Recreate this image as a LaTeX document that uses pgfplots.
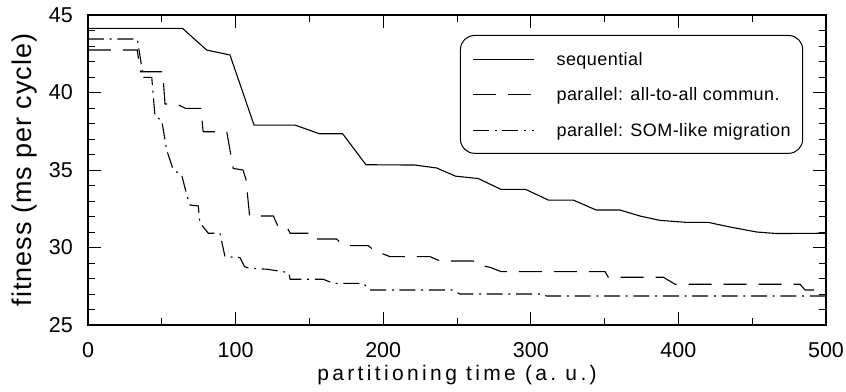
\documentclass[border=0pt]{standalone}
\usepackage{fontspec}
\setmainfont{Liberation Sans}
\newfontfamily\labelfont[LetterSpace=16]{Liberation Sans}
\newfontfamily\ylabelfont[LetterSpace=3.5]{Liberation Sans}
\newfontfamily\legfont[LetterSpace=2.5]{Liberation Sans}
\usepackage{pgfplots}
\pgfplotsset{compat=1.18}
\begin{document}
\begin{tikzpicture}
\path[use as bounding box] (-88pt,-66pt) rectangle (758pt,325pt);
\begin{axis}[
  at={(0pt,0pt)}, anchor=south west,
  scale only axis, width=738pt, height=310pt,
  xmin=0, xmax=500, ymin=25, ymax=45,
  xtick={0,100,...,500}, ytick={25,30,...,45},
  minor x tick num=1, minor y tick num=4,
  major tick length=13pt, minor tick length=7pt,
  tick align=inside,
  every tick/.style={black, line width=1pt},
  axis line style={line width=1.3pt},
  /pgf/number format/assume math mode=true,
  ticklabel style={font=\fontsize{21.5}{25}\selectfont},
  yticklabel style={anchor=east, inner sep=0pt, xshift=-15pt},
  xticklabel style={anchor=north, inner sep=0pt, yshift=-17pt},
  xlabel={partitioning time (a.\ u.)},
  xlabel style={at={(axis description cs:0.5,-0.1790)}, anchor=base, inner sep=0pt, font=\labelfont\fontsize{21}{25}\selectfont},
  ylabel={fitness (ms per cycle)},
  ylabel style={at={(axis description cs:-0.0759,0.5)}, anchor=base, inner sep=0pt, font=\ylabelfont\fontsize{27}{31}\selectfont},
  legend image code/.code={\draw[#1] (0pt,-0.5pt) -- (61pt,-0.5pt);},
  legend cell align=left,
  legend style={at={(axis cs:252,43.71)}, anchor=north west, draw=black, line width=1pt,
    rounded corners=14pt, inner xsep=12pt, inner ysep=15pt, row sep=18.4pt, column sep=22pt,
    font=\legfont\fontsize{18}{21}\selectfont,
    nodes={inner sep=0pt, text height=15pt, text depth=2pt}},
]
\addplot[black, line width=1.1pt, sharp corners] coordinates {
(0,44.14) (64,44.14) (80.4,42.74) (96.2,42.42) (112.5,37.9) (140.2,37.9) (156.7,37.34) (172.5,37.34)
(188.3,35.34) (221.5,35.32) (236.2,35.13) (249.1,34.6) (264.4,34.45) (279.8,33.75) (296.5,33.75)
(311.9,33.06) (328.8,33.06) (344.2,32.42) (360.4,32.42) (374,32.03) (387.5,31.75) (405.6,31.62)
(420.3,31.62) (435,31.32) (453,31.0) (466.6,30.9) (500,30.92)};
\addlegendentry{sequential}
\addplot[black, line width=1.1pt, dash pattern=on 23pt off 12pt] coordinates {
(0,42.74) (33.4,42.74) (35.5,41.34) (50.6,41.34) (52.2,39.26) (60,39.26) (66,38.98) (76.5,38.98)
(78,37.47) (94,37.47) (98.4,35.1) (105,35.0) (107,34.4) (109.5,32.03) (125.6,32.03) (129,31.3)
(135,31.27) (137,30.92) (152.6,30.92) (155,30.55) (168.4,30.55) (172,30.2) (178.6,30.12) (189.9,30.12)
(194,29.8) (204.6,29.41) (231.7,29.41) (238.5,29.13) (261,29.13) (266,28.85) (272.4,28.72) (280,28.44)
(350.3,28.44) (352.5,28.08) (389.8,28.08) (397.7,27.63) (482.4,27.63) (485.8,27.26) (500,27.26)};
\addlegendentry{parallel: all-to-all commun.}
\addplot[black, line width=1.1pt, dash pattern=on 16pt off 5.7pt on 2pt off 5.7pt] coordinates {
(0,43.45) (33.4,43.45) (37.5,40.98) (43.2,40.98) (45.4,38.44) (49.9,38.23) (53.3,36.29) (57.8,35.0)
(63.5,34.68) (66.9,33.39) (69.1,32.74) (74.7,32.68) (75.8,31.6) (81.5,30.92) (89.4,30.92) (92.8,29.41)
(103,29.35) (106,28.77) (109.3,28.66) (121,28.6) (124.6,28.55) (136,28.38) (136.9,27.95) (159.4,27.95)
(166.2,27.69) (186.5,27.69) (191,27.26) (246.5,27.26) (252,27.0) (306.2,27.0) (310.8,26.87) (500,26.87)};
\addlegendentry{parallel: SOM-like migration}
\end{axis}
\end{tikzpicture}
\end{document}
